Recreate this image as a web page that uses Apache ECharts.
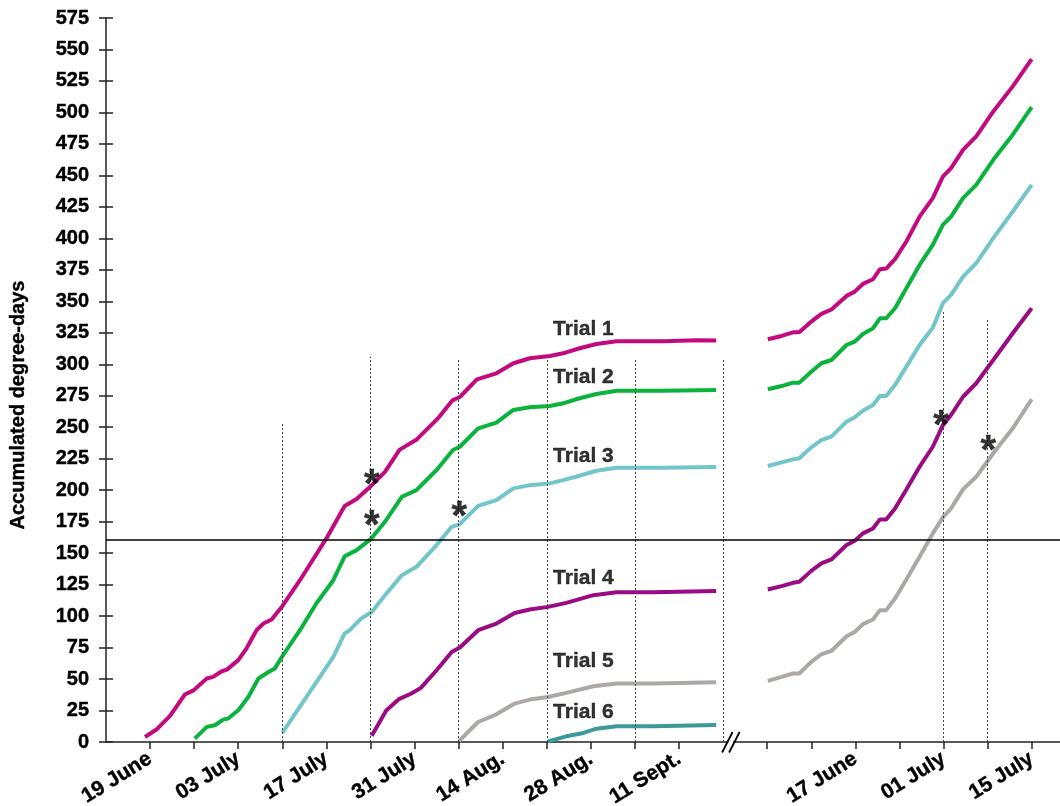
<!DOCTYPE html>
<html>
<head>
<meta charset="utf-8">
<title>Accumulated degree-days</title>
<script src="https://cdn.jsdelivr.net/npm/echarts@6/dist/echarts.min.js"></script>
<style>
  html, body { margin: 0; padding: 0; background: #fff; }
  #chart { width: 1060px; height: 806px; }
</style>
</head>
<body>
<div id="chart"></div>
<script>
// x values are days counted from 12 June of the first season; the second season
// is joined on at day 98 (the "//" break), so 27 May of season two sits at day 98.

// Tick labels on the date axis
const dateTickDays   = [7, 21, 35, 49, 63, 77, 91, 119, 133, 147];
const dateTickLabels = ['19 June', '03 July', '17 July', '31 July', '14 Aug.', '28 Aug.', '11 Sept.', '17 June', '01 July', '15 July'];
const breakDay = 98;

// Trial names
const trialNames = ['Trial 1', 'Trial 2', 'Trial 3', 'Trial 4', 'Trial 5', 'Trial 6'];
const trialColors = ['#C3097F', '#0AB33C', '#72C5C8', '#9A0A82', '#ABA8A5', '#3C9A9A'];

// First season: [day, accumulated degree-days]
const trial1Season1 = [[6.2,4],[8,9.9],[10.2,21],[12.5,37.7],[13.9,41],[16,50.4],[17,51.7],[18.4,56.2],[19.2,57.5],[21,65],[22.3,74.2],[23.9,88.8],[25,94.1],[26.3,97.3],[28,107.9],[30.8,128.5],[35,161.7],[37.9,187.5],[39.8,193],[42,203],[44.3,214.6],[46.6,232],[49.4,240.5],[52.7,257],[55,271.3],[56.2,274],[58.9,288],[62,292.8],[64.7,300.8],[67.3,304.8],[70.5,306.6],[72.6,308.7],[75.2,312.7],[77.9,316.1],[81.1,318.3],[88.5,318.3],[93.8,319],[96.9,318.8]];
const trial2Season1 = [[14.1,2.7],[16,12],[17.3,13.3],[18.6,17.8],[19.4,18.6],[21,25.2],[22.6,35.8],[24.2,50.4],[25.8,55.6],[26.8,58.3],[28,68.1],[30.8,88.8],[33.4,110],[36.1,128.5],[37.9,147.5],[39.8,152.4],[42,160.9],[44.3,174.9],[47,194.8],[49.3,200],[52.5,216],[55.1,231.9],[56.2,234.5],[59.1,249.1],[62,253.6],[64.7,263.7],[67.3,265.8],[70.5,266.9],[72.6,269],[75.2,273],[77.9,276.4],[81.1,279],[88.5,279],[96.9,279.6]];
const trial3Season1 = [[28,7.2],[29.7,19.9],[32.9,43.7],[36.1,67.6],[37.9,86.2],[38.7,88.8],[40.5,98],[42.2,103.3],[44.3,116.6],[47,132.5],[49.3,139.1],[52.5,156.4],[54.9,170.9],[56.2,173],[59.1,187.5],[62,192.1],[64.7,201.4],[67.3,204],[70.5,205.4],[72.6,208],[75.2,211.5],[77.9,215.4],[81.1,217.8],[88.5,217.8],[96.9,218.4]];
const trial4Season1 = [[42.2,5],[44.5,25],[46.5,34],[48.5,38.5],[50,43],[52.5,57],[54.9,71.5],[56.2,75],[59.1,88.8],[62,94.1],[64.9,102.5],[67.3,105.2],[70.2,107.3],[73.1,110.5],[77.4,116.6],[81.1,119],[86.9,119],[96.9,120]];
const trial5Season1 = [[56.1,1],[59.1,15.9],[62,22],[64.9,30.5],[67.3,33.7],[70.2,35.8],[73.1,39],[77.4,44.3],[81.1,46.4],[86.9,46.4],[96.9,47.5]];
const trial6Season1 = [[70.2,0.5],[73.1,4.5],[75.8,7.2],[77.9,10.6],[81.1,12.5],[86.9,12.5],[96.9,13.5]];

// Second season: shared days, one value list per trial
const season2Days = [105.1,107.3,109.1,110.1,112,113.6,115.2,117.6,118.9,120.2,121.8,122.9,123.9,125.3,127.1,129.2,131.3,132.9,134.2,136.1,138.2,140.9,144,147];
const trial1Season2 = [319.9,322.5,325.4,325.4,333.9,340,343.5,354.3,357.7,363.8,367.5,375.5,376,383.5,397.5,417.3,432,449,455.8,470.3,481,500.8,520.7,542.4];
const trial2Season2 = [280.1,282.7,285.4,285.4,294.1,300.8,303.4,315.3,318,324,328.5,336.5,336.5,344.5,360.4,378.9,394.8,410.7,417.3,432,442.5,462.4,482.3,504.3];
const trial3Season2 = [219.2,222.1,224.5,225.3,234,239.8,242.5,254.4,257.9,263.1,267.6,274.8,274.8,283.5,298.1,315.3,329,348.5,355.1,369.6,380.3,400.2,421.3,442.5];
const trial4Season2 = [121.1,123.8,126.4,127.2,135.9,141.8,145,156.4,159.8,165.7,169.6,176.8,176.8,185.5,200.6,218.6,234.5,251.7,259.7,274.2,284.9,303.4,324.6,344.5];
const trial5Season2 = [48.5,51.7,54.4,54.4,63.6,69.7,72.3,84,87.4,93.6,97.3,104.7,104.7,114,129.1,147.1,165.7,178.4,185.5,200.6,210.7,229.3,249.1,272.2];

// Threshold level (horizontal line) and date markers [day, top of marker]
const thresholdLevel = 161;
const dateMarkers = [[28,253],[42,306],[56,304],[70,304],[84,304],[98,304],[133,342],[140,336]];

// Asterisks [day, value]
const asterisks = [[42.2,210.7],[42.2,177.6],[56.1,184.7],[132.6,257],[140.1,237.7]];

// Trial label anchors [day, value] (left edge, vertical centre)
const trialLabelPos = [[71,328],[71,290],[71,227],[71,130],[71,64],[71,24]];

const season1 = [trial1Season1, trial2Season1, trial3Season1, trial4Season1, trial5Season1, trial6Season1];
const season2 = [trial1Season2, trial2Season2, trial3Season2, trial4Season2, trial5Season2];

const FONT = '"Liberation Sans", Arial, sans-serif';
const INK = '#000';
const AXIS = '#222';
const chart = echarts.init(document.getElementById('chart'), null, { renderer: 'canvas' });

const lineSeries = [];
season1.forEach((pts, i) => {
  lineSeries.push({
    name: trialNames[i], type: 'line', data: pts, showSymbol: false, smooth: false,
    lineStyle: { color: trialColors[i], width: 4 }, itemStyle: { color: trialColors[i] }, z: 3, silent: true
  });
});
season2.forEach((vals, i) => {
  lineSeries.push({
    name: trialNames[i] + ' (2)', type: 'line', data: season2Days.map((d, k) => [d, vals[k]]), showSymbol: false,
    lineStyle: { color: trialColors[i], width: 4 }, itemStyle: { color: trialColors[i] }, z: 3, silent: true
  });
});

const tickDays = [];
for (let d = 7; d <= 147; d += 7) if (d !== breakDay) tickDays.push(d);

const boldText = (size) => ({ fontFamily: FONT, fontWeight: 'bold', fontSize: size, color: INK,
  textBorderColor: INK, textBorderWidth: 0.4 });

const option = {
  animation: false,
  backgroundColor: '#fff',
  grid: { left: 106, right: 0, top: 18, bottom: 64, containLabel: false, outerBoundsMode: 'none' },
  xAxis: {
    type: 'value', min: 0, max: 151.5,
    axisLine: { show: true, lineStyle: { color: AXIS, width: 1.5 } },
    axisTick: { show: true, customValues: tickDays, length: 7, inside: false, lineStyle: { color: AXIS, width: 1.5 } },
    axisLabel: Object.assign({
      show: true, customValues: dateTickDays, rotate: 32, margin: 15,
      formatter: v => { const i = dateTickDays.indexOf(v); return i >= 0 ? dateTickLabels[i] : ''; }
    }, boldText(21)),
    splitLine: { show: false }
  },
  yAxis: [{
    type: 'value', min: 0, max: 575, interval: 25,
    name: 'Accumulated degree-days', nameLocation: 'middle', nameRotate: 90, nameGap: 78,
    nameTextStyle: Object.assign(boldText(20), { padding: [0, 50, 0, 0] }),
    axisLine: { show: true, lineStyle: { color: AXIS, width: 1.5 } },
    axisTick: { show: true, length: 7, inside: false, lineStyle: { color: AXIS, width: 1.5 } },
    axisLabel: Object.assign({ margin: 17 }, boldText(20)),
    splitLine: { show: false }
  }, {
    type: 'value', min: 0, max: 575, interval: 25, position: 'left',
    axisLine: { show: false },
    axisTick: { show: true, length: 7, inside: true, lineStyle: { color: AXIS, width: 1.5 } },
    axisLabel: { show: false }, splitLine: { show: false }
  }],
  series: [
    {
      type: 'line', data: [], silent: true,
      markLine: {
        silent: true, symbol: 'none', animation: false, label: { show: false },
        data: dateMarkers.map(([d, top]) => [
          { coord: [d, 0], lineStyle: { color: '#444', width: 1, type: [2, 2] } },
          { coord: [d, top] }
        ]).concat([[
          { coord: [0, thresholdLevel], lineStyle: { color: '#000', width: 1.5, type: 'solid' } },
          { coord: [151.5, thresholdLevel] }
        ]])
      },
      z: 2
    },
    ...lineSeries,
    {
      type: 'scatter', data: asterisks, symbolSize: 0, silent: true, z: 5,
      label: Object.assign({ show: true, position: 'inside', formatter: '*', offset: [0, 9] }, boldText(40))
    },
    {
      type: 'scatter', data: trialLabelPos.map((p, i) => ({ value: p, name: trialNames[i] })), symbolSize: 0, silent: true, z: 5,
      label: Object.assign({ show: true, position: 'right', distance: 0, formatter: p => p.name, align: 'left', verticalAlign: 'middle' }, boldText(21))
    }
  ]
};
chart.setOption(option);

// Axis break marks "//" at the join between seasons
const p = chart.convertToPixel({ gridIndex: 0 }, [breakDay, 0]);
chart.setOption({
  graphic: [
    { type: 'rect', shape: { x: p[0] + 5, y: p[1] - 3, width: 5, height: 6 }, style: { fill: '#fff' }, z: 10, silent: true },
    { type: 'line', shape: { x1: p[0] - 1, y1: p[1] + 10.5, x2: p[0] + 9.5, y2: p[1] - 10 }, style: { stroke: '#000', lineWidth: 1.8 }, z: 11, silent: true },
    { type: 'line', shape: { x1: p[0] + 6, y1: p[1] + 10.5, x2: p[0] + 16.5, y2: p[1] - 10 }, style: { stroke: '#000', lineWidth: 1.8 }, z: 11, silent: true }
  ]
});
</script>
</body>
</html>
